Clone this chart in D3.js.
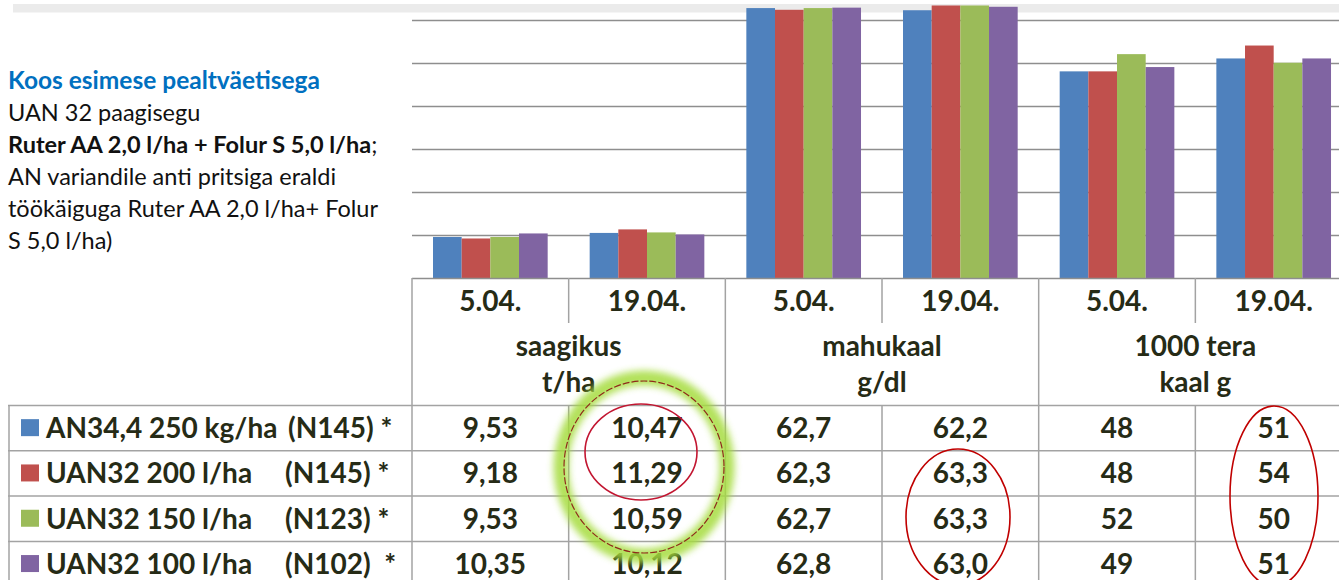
<!DOCTYPE html>
<html>
<head>
<meta charset="utf-8">
<script src="https://cdn.jsdelivr.net/npm/d3@7/dist/d3.min.js"></script>
<style>
  html, body { margin: 0; padding: 0; background: #ffffff; }
  svg { display: block; }
  text { font-family: Lato, "Open Sans", sans-serif; }
</style>
</head>
<body>
<svg id="chart" width="1339" height="580"></svg>
<script>
// ---------------- DATA ----------------
const categories = ["5.04.", "19.04.", "5.04.", "19.04.", "5.04.", "19.04."];
const measures = ["saagikus", "mahukaal", "1000 tera"];
const measureUnits = ["t/ha", "g/dl", "kaal g"];
const measureDecimals = [2, 1, 0];

const seriesNames = ["AN34,4 250 kg/ha", "UAN32 200 l/ha", "UAN32 150 l/ha", "UAN32 100 l/ha"];
const seriesCodes = ["(N145) *", "(N145) *", "(N123) *", "(N102)  *"];

const an344_250kg = [9.53, 10.47, 62.7, 62.2, 48, 51];
const uan32_200l  = [9.18, 11.29, 62.3, 63.3, 48, 54];
const uan32_150l  = [9.53, 10.59, 62.7, 63.3, 52, 50];
const uan32_100l  = [10.35, 10.12, 62.8, 63.0, 49, 51];

const yTicks = [0, 10, 20, 30, 40, 50, 60];

const noteLines = [
  [{t: "Koos esimese pealtväetisega", w: "bold", c: "#0070c0"}],
  [{t: "UAN 32 paagisegu", w: "normal"}],
  [{t: "Ruter AA 2,0 l/ha + Folur S 5,0 l/ha", w: "bold"}, {t: ";", w: "normal"}],
  [{t: "AN variandile anti pritsiga eraldi", w: "normal"}],
  [{t: "töökäiguga Ruter AA 2,0 l/ha+ Folur", w: "normal"}],
  [{t: "S 5,0 l/ha)", w: "normal"}]
];

// ---------------- LAYOUT ----------------
const seriesValues = [an344_250kg, uan32_200l, uan32_150l, uan32_100l];
const colors = ["#4f81bd", "#c0504d", "#9bbb59", "#8064a2"];
const textCol = "#262b16";
const lineCol = "#a3a3a3";

const svg = d3.select("#chart");

const plotLeft = 412, step = 156.67;
const x0 = d3.scaleBand().domain(d3.range(categories.length))
  .range([plotLeft, plotLeft + step * categories.length]).padding(0);
const inset = 21;
const x1 = d3.scaleBand().domain(d3.range(seriesValues.length))
  .range([inset, x0.bandwidth() - inset]).padding(0);
const y = d3.scaleLinear().domain([0, 60]).range([278, 19.7]);

// top grey band
svg.append("rect").attr("x", 13).attr("y", 4).attr("width", 1339).attr("height", 8.5)
  .attr("fill", "#ebebeb");

// gridlines
svg.append("g").selectAll("line").data(yTicks.filter(d => d > 0)).join("line")
  .attr("x1", plotLeft).attr("x2", 1339)
  .attr("y1", d => Math.round(y(d)) + 0.5).attr("y2", d => Math.round(y(d)) + 0.5)
  .attr("stroke", "#8e8e8e").attr("stroke-width", 1.4);

// bars
const groups = svg.append("g").selectAll("g").data(categories.map((c, i) => i)).join("g")
  .attr("transform", i => `translate(${x0(i)},0)`);
groups.selectAll("rect").data(i => seriesValues.map((s, k) => ({k, v: s[i]}))).join("rect")
  .attr("x", d => x1(d.k)).attr("width", x1.bandwidth())
  .attr("y", d => y(d.v)).attr("height", d => y(0) - y(d.v))
  .attr("fill", d => colors[d.k]);

// baseline / table top
svg.append("line").attr("x1", plotLeft).attr("x2", 1339).attr("y1", 278.5).attr("y2", 278.5)
  .attr("stroke", "#8e8e8e").attr("stroke-width", 1.6);

// ---------------- TABLE ----------------
const rowTop = 405.5, rowH = 45.3;
const tbl = svg.append("g");
d3.range(seriesValues.length).forEach(r => {
  tbl.append("line").attr("x1", 8).attr("x2", 1339)
    .attr("y1", rowTop + r * rowH).attr("y2", rowTop + r * rowH)
    .attr("stroke", lineCol).attr("stroke-width", 1.5);
});
tbl.append("line").attr("x1", 9).attr("x2", 9).attr("y1", rowTop).attr("y2", 580)
  .attr("stroke", lineCol).attr("stroke-width", 1.5);
d3.range(categories.length + 1).forEach(i => {
  const xv = x0.range()[0] + i * step;
  const full = i % 2 === 0;
  if (full) {
    tbl.append("line").attr("x1", xv).attr("x2", xv).attr("y1", 278).attr("y2", 580)
      .attr("stroke", lineCol).attr("stroke-width", 1.5);
  } else {
    tbl.append("line").attr("x1", xv).attr("x2", xv).attr("y1", 278).attr("y2", 323)
      .attr("stroke", lineCol).attr("stroke-width", 1.5);
    tbl.append("line").attr("x1", xv).attr("x2", xv).attr("y1", rowTop).attr("y2", 580)
      .attr("stroke", lineCol).attr("stroke-width", 1.5);
  }
});

const fs = 28;
tbl.selectAll("text.date").data(categories).join("text").attr("class", "date")
  .attr("x", (d, i) => x0(i) + step / 2).attr("y", 311)
  .attr("text-anchor", "middle").attr("font-weight", "bold").attr("font-size", fs)
  .attr("fill", textCol).text(d => d);
measures.forEach((m, j) => {
  const cx = x0(2 * j) + step;
  tbl.append("text").attr("x", cx).attr("y", 356).attr("text-anchor", "middle")
    .attr("font-weight", "bold").attr("font-size", fs).attr("fill", textCol).text(m);
  tbl.append("text").attr("x", cx).attr("y", 392).attr("text-anchor", "middle")
    .attr("font-weight", "bold").attr("font-size", fs).attr("fill", textCol).text(measureUnits[j]);
});
seriesValues.forEach((s, r) => {
  const cy = rowTop + r * rowH + rowH / 2 + 10;
  s.forEach((v, i) => {
    const dec = measureDecimals[Math.floor(i / 2)];
    tbl.append("text").attr("x", x0(i) + step / 2).attr("y", cy).attr("text-anchor", "middle")
      .attr("font-weight", "bold").attr("font-size", fs).attr("fill", textCol)
      .text(d3.format(`.${dec}f`)(v).replace(".", ","));
  });
  tbl.append("rect").attr("x", 21).attr("y", cy - 19).attr("width", 18).attr("height", 17)
    .attr("fill", colors[r]);
  tbl.append("text").attr("x", 46).attr("y", cy).attr("font-weight", "bold").attr("font-size", fs)
    .attr("fill", textCol).text(seriesNames[r]);
  tbl.append("text").attr("x", r === 0 ? 288 : 285).attr("y", cy).attr("font-weight", "bold")
    .attr("font-size", fs).attr("fill", textCol).style("white-space", "pre").text(seriesCodes[r]);
});

// ---------------- NOTE TEXT ----------------
const note = svg.append("g");
noteLines.forEach((segs, li) => {
  const t = note.append("text").attr("x", 8).attr("y", 89 + li * 32).attr("fill", "#111");
  segs.forEach(s => t.append("tspan").attr("font-weight", s.w).attr("fill", s.c || "#111")
    .attr("font-size", li === 0 ? 24.5 : 23.5).text(s.t));
});

// ---------------- ANNOTATIONS ----------------
const defs = svg.append("defs");
defs.append("filter").attr("id", "glow").attr("x", "-20%").attr("y", "-20%")
  .attr("width", "140%").attr("height", "140%")
  .append("feGaussianBlur").attr("stdDeviation", 3.5);
const ann = svg.append("g");
ann.append("ellipse").attr("cx", 644).attr("cy", 467).attr("rx", 83).attr("ry", 89)
  .attr("fill", "none").attr("stroke", "#a5dc3c").attr("stroke-width", 15)
  .attr("opacity", 0.85).attr("filter", "url(#glow)");
ann.append("ellipse").attr("cx", 644).attr("cy", 467).attr("rx", 80).attr("ry", 86)
  .attr("fill", "none").attr("stroke", "#8f2a1a").attr("stroke-width", 1.2)
  .attr("stroke-dasharray", "7,2");
ann.append("ellipse").attr("cx", 641).attr("cy", 452).attr("rx", 56).attr("ry", 48)
  .attr("fill", "none").attr("stroke", "#c21631").attr("stroke-width", 1.6);
ann.append("ellipse").attr("cx", 958).attr("cy", 517).attr("rx", 52).attr("ry", 68)
  .attr("fill", "none").attr("stroke", "#c00000").attr("stroke-width", 1.6);
ann.append("ellipse").attr("cx", 1274).attr("cy", 496).attr("rx", 44).attr("ry", 90)
  .attr("fill", "none").attr("stroke", "#c00000").attr("stroke-width", 1.6);
</script>
</body>
</html>
